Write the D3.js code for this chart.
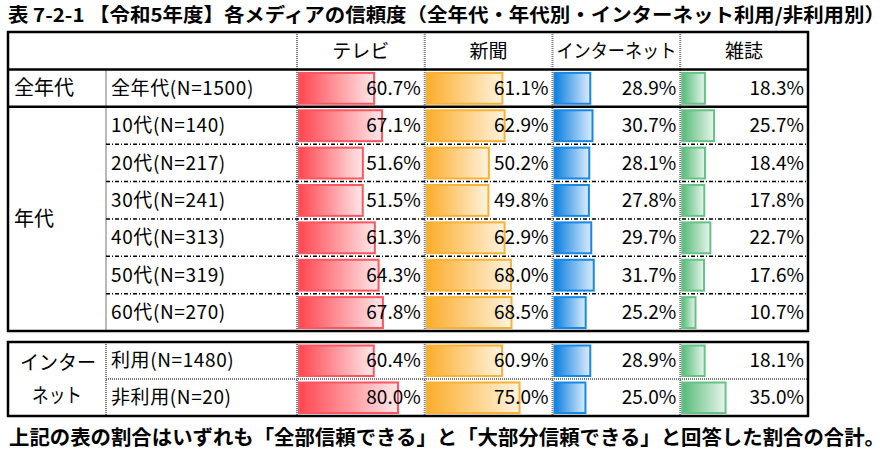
<!DOCTYPE html>
<html><head><meta charset="utf-8">
<script src="https://cdn.jsdelivr.net/npm/d3@7"></script>
<style>html,body{margin:0;padding:0;background:#fff;}svg{display:block;}</style>
</head><body>
<svg id="c" width="893" height="456"></svg>
<script>
const title = "表 7-2-1 【令和5年度】各メディアの信頼度（全年代・年代別・インターネット利用/非利用別）";
const footer = "上記の表の割合はいずれも「全部信頼できる」と「大部分信頼できる」と回答した割合の合計。";
const media = ["テレビ", "新聞", "インターネット", "雑誌"];
const mainRows = ["全年代(N=1500)", "10代(N=140)", "20代(N=217)", "30代(N=241)", "40代(N=313)", "50代(N=319)", "60代(N=270)"];
const netRows = ["利用(N=1480)", "非利用(N=20)"];
const tv       = [60.7, 67.1, 51.6, 51.5, 61.3, 64.3, 67.8, 60.4, 80.0];
const newspaper= [61.1, 62.9, 50.2, 49.8, 62.9, 68.0, 68.5, 60.9, 75.0];
const internet = [28.9, 30.7, 28.1, 27.8, 29.7, 31.7, 25.2, 28.9, 25.0];
const magazine = [18.3, 25.7, 18.4, 17.8, 22.7, 17.6, 10.7, 18.1, 35.0];

const series = [tv, newspaper, internet, magazine];
const colors = [
  {a:"#ff4650", b:"#ffe8ea", s:"#ff5560"},
  {a:"#fbad2a", b:"#fff3de", s:"#f9b233"},
  {a:"#0a7ee0", b:"#dcedfc", s:"#1589e8"},
  {a:"#56bb78", b:"#e8f5ec", s:"#66c285"}
];
const FONT = "'Noto Sans CJK JP','Noto Sans',sans-serif";
const svg = d3.select("#c");
const L = 8, R = 808, C1 = 106, C2 = 297;

const yMain = d3.scaleBand().domain(["header"].concat(mainRows)).range([32, 331]);
const yNet = d3.scaleBand().domain(netRows).range([342, 416]);
const x = d3.scaleBand().domain(media).range([C2, R]);
const w = d3.scaleLinear().domain([0, 100]).range([0, x.bandwidth() - 4]);

const defs = svg.append("defs");
colors.forEach((c, i) => {
  const g = defs.append("linearGradient").attr("id", "g" + i);
  g.append("stop").attr("offset", "0%").attr("stop-color", c.a);
  g.append("stop").attr("offset", "100%").attr("stop-color", c.b);
});

svg.append("text").attr("x", 8).attr("y", 22).attr("font-family", FONT)
  .attr("font-weight", "bold").attr("font-size", 19).attr("textLength", 877)
  .attr("lengthAdjust", "spacingAndGlyphs").text(title);
svg.append("text").attr("x", 9).attr("y", 445).attr("font-family", FONT)
  .attr("font-weight", "bold").attr("font-size", 20).attr("textLength", 876)
  .attr("lengthAdjust", "spacingAndGlyphs").text(footer);

const rows = mainRows.map((r, i) => ({label: r, y: yMain(r), h: yMain.bandwidth(), idx: i}))
  .concat(netRows.map((r, i) => ({label: r, y: yNet(r), h: yNet.bandwidth(), idx: mainRows.length + i})));

// bars
rows.forEach(row => {
  media.forEach((m, j) => {
    const v = series[j][row.idx];
    svg.append("rect").attr("x", x(m) + 2).attr("y", row.y + 3.5)
      .attr("width", w(v)).attr("height", row.h - 6.5)
      .attr("fill", "url(#g" + j + ")").attr("stroke", colors[j].s).attr("stroke-width", 2);
  });
});

// texts
const T = svg.append("g").attr("font-family", FONT).attr("font-size", 19).attr("fill", "#000");
rows.forEach(row => {
  T.append("text").attr("x", C1 + 5).attr("y", row.y + row.h / 2).attr("dy", "0.36em")
    .attr("letter-spacing", 0.6).text(row.label);
  media.forEach((m, j) => {
    const v = series[j][row.idx];
    T.append("text").attr("x", x(m) + x.bandwidth() - 4).attr("y", row.y + row.h / 2).attr("dy", "0.36em")
      .attr("text-anchor", "end").text(v.toFixed(1) + "%");
  });
});
media.forEach(m => {
  const t = T.append("text").attr("x", x(m) + x.bandwidth() / 2).attr("y", yMain("header") + yMain.bandwidth() / 2)
    .attr("dy", "0.36em").attr("text-anchor", "middle").text(m);
  if (m.length > 4) t.attr("textLength", 120).attr("lengthAdjust", "spacingAndGlyphs");
});
T.append("text").attr("x", 14).attr("y", yMain(mainRows[0]) + yMain.bandwidth() / 2).attr("dy", "0.36em").attr("font-size", 20).text("全年代");
T.append("text").attr("x", 14).attr("y", (yMain(mainRows[1]) + 331) / 2).attr("dy", "0.36em").attr("font-size", 20).text("年代");
T.append("text").attr("x", 20).attr("y", yNet(netRows[0]) + yNet.bandwidth() / 2 + 2).attr("dy", "0.36em")
  .attr("font-size", 20).attr("textLength", 76).attr("lengthAdjust", "spacingAndGlyphs").text("インター");
T.append("text").attr("x", 32).attr("y", yNet(netRows[1]) + yNet.bandwidth() / 2 - 2).attr("dy", "0.36em")
  .attr("font-size", 20).attr("textLength", 50).attr("lengthAdjust", "spacingAndGlyphs").text("ネット");

// grid lines
const G = svg.append("g");
function dotted(x1, y1, x2, y2) {
  G.append("line").attr("x1", x1).attr("y1", y1).attr("x2", x2).attr("y2", y2)
    .attr("stroke", "#777").attr("stroke-width", 2).attr("stroke-dasharray", "1,1");
}
function dashdot(x1, y1, x2, y2) {
  G.append("line").attr("x1", x1).attr("y1", y1).attr("x2", x2).attr("y2", y2)
    .attr("stroke", "#000").attr("stroke-width", 1.5).attr("stroke-dasharray", "4,2,1,2");
}
function solid(x1, y1, x2, y2, sw) {
  G.append("line").attr("x1", x1).attr("y1", y1).attr("x2", x2).attr("y2", y2)
    .attr("stroke", "#000").attr("stroke-width", sw);
}
media.forEach((m, j) => { if (j > 0) { dotted(x(m), 32, x(m), 331); dotted(x(m), 342, x(m), 416); } });
dotted(C2, 32, C2, 331); dotted(C2, 342, C2, 416);
dotted(C1, yMain(mainRows[0]), C1, 331); dotted(C1, 342, C1, 416);
for (let i = 2; i < mainRows.length; i++) dashdot(C1, yMain(mainRows[i]), R, yMain(mainRows[i]));
dotted(C1, yNet(netRows[1]), R, yNet(netRows[1]));
solid(L, yMain(mainRows[0]), R, yMain(mainRows[0]), 2.5);
solid(L, yMain(mainRows[1]), R, yMain(mainRows[1]), 2.5);
G.append("rect").attr("x", L).attr("y", 32).attr("width", R - L).attr("height", 331 - 32)
  .attr("fill", "none").attr("stroke", "#000").attr("stroke-width", 2.5);
G.append("rect").attr("x", L).attr("y", 342).attr("width", R - L).attr("height", 416 - 342)
  .attr("fill", "none").attr("stroke", "#000").attr("stroke-width", 2.5);
</script>
</body></html>
